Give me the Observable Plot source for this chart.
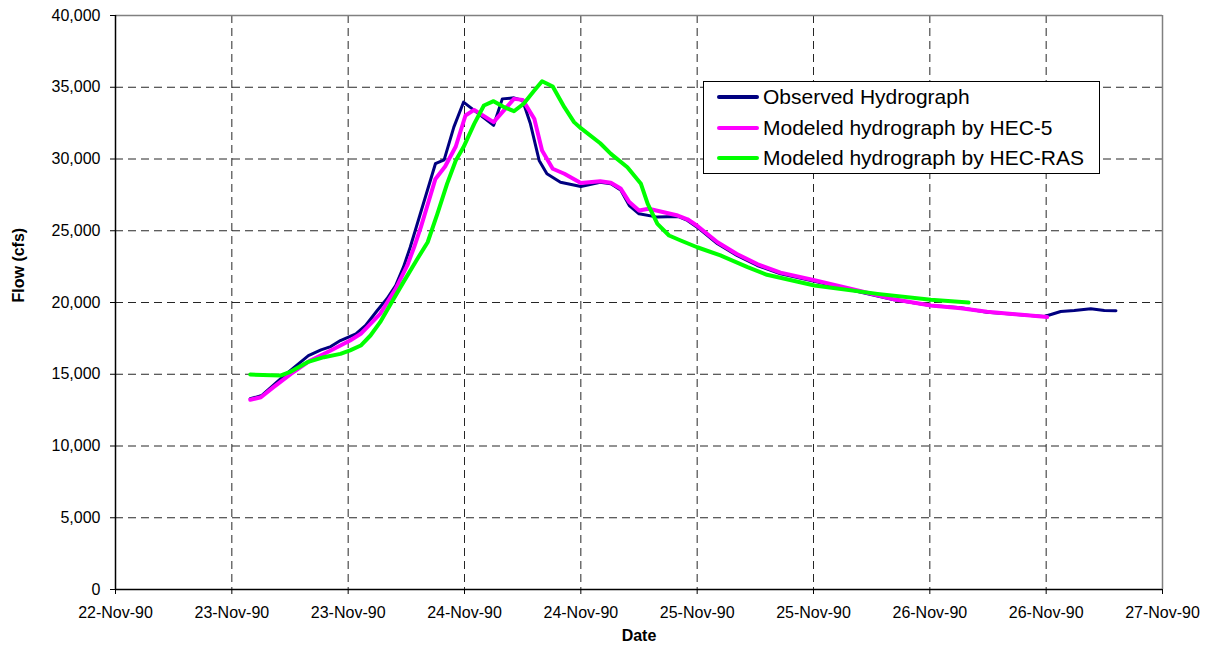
<!DOCTYPE html>
<html>
<head>
<meta charset="utf-8">
<script src="https://cdn.jsdelivr.net/npm/d3@7"></script>
<script src="https://cdn.jsdelivr.net/npm/@observablehq/plot@0.6"></script>
<style>
  html, body { margin: 0; padding: 0; background: #fff; }
  #wrap { position: relative; width: 1212px; height: 650px; font-family: "Liberation Sans", Arial, sans-serif; }
  #legend { position: absolute; left: 703px; top: 81px; width: 395px; height: 91px; border: 1px solid #000; background: #fff; box-sizing: content-box; }
  .row { display: flex; align-items: center; height: 30.5px; font-size: 21px; color: #000; white-space: nowrap; }
  .sw { width: 42px; height: 4px; margin-left: 13px; margin-right: 4px; border-radius: 2px; }
</style>
</head>
<body>
<div id="wrap"></div>
<script>
// ---- data (hours after 23-Nov-90 00:00, flow in cfs) ----
const seriesNames = ["Observed Hydrograph", "Modeled hydrograph by HEC-5", "Modeled hydrograph by HEC-RAS"];
const seriesColors = ["#000080", "#FF00FF", "#00FF00"];

const obsHours = [1.9, 3.1, 5.4, 7.9, 9.2, 10.2, 11.2, 12.8, 13.8, 15.0, 16.0, 16.9, 17.7, 18.4, 21.0,
  21.9, 22.9, 23.9, 27.0, 27.9, 29.1, 30.0, 30.8, 31.7, 32.5, 33.9, 36.0, 38.0, 39.1, 40.1,
  41.0, 42.0, 43.9, 46.0, 47.0, 48.0, 50.1, 52.1, 54.2, 56.6, 60.1, 64.9, 68.3, 72.1, 75.2,
  77.9, 83.8, 84.5, 85.5, 86.9, 88.6, 90.0, 91.2];
const obsFlow = [13290, 13520, 14910, 16300, 16700, 16930, 17350, 17820, 18400, 19440, 20260, 21180, 22460, 23850, 29670,
  29940, 32220, 33960, 32340, 34190, 34260, 34080, 32450, 29900, 28970, 28380, 28080, 28380, 28270, 27850,
  26760, 26180, 25950, 26000, 25720, 25250, 24090, 23280, 22580, 22000, 21480, 20720, 20190, 19790, 19630,
  19320, 19020, 19160, 19370, 19440, 19560, 19440, 19420];

const hec5Hours = [1.9, 3.0, 4.3, 6.1, 8.1, 10.2, 12.2, 13.3, 15.3, 16.9, 18.1, 18.8, 19.5, 21.0, 22.0,
  23.1, 24.1, 25.0, 27.0, 29.1, 30.0, 31.2, 32.0, 33.1, 34.3, 36.0, 38.0, 39.1, 40.1, 41.0,
  42.0, 43.0, 46.0, 47.0, 48.0, 50.1, 52.1, 54.2, 56.6, 60.1, 64.9, 68.3, 72.1, 75.2, 77.9, 84.1];
const hec5Flow = [13220, 13400, 14100, 15030, 15960, 16660, 17350, 17820, 19210, 20950, 22580, 23850, 25250, 28610, 29480,
  30870, 33030, 33420, 32570, 34190, 34120, 32800, 30590, 29320, 28970, 28320, 28450, 28350, 27950, 27000,
  26410, 26530, 26060, 25800, 25350, 24200, 23380, 22680, 22080, 21550, 20780, 20220, 19790, 19600, 19350, 18990];

const rasHours = [1.9, 5.0, 6.1, 7.8, 9.5, 11.2, 12.2, 13.3, 14.3, 15.3, 16.4, 17.7, 19.1, 20.2, 21.2,
  22.2, 23.1, 23.9, 25.0, 26.0, 27.0, 28.1, 29.1, 30.1, 31.2, 32.0, 33.1, 34.3, 35.3, 36.0,
  38.0, 39.1, 40.8, 42.2, 42.9, 43.9, 45.1, 46.3, 48.0, 50.4, 53.2, 55.2, 60.1, 66.6, 72.1, 76.0];
const rasFlow = [14980, 14910, 15190, 15840, 16190, 16420, 16660, 17000, 17700, 18630, 19910, 21420, 23000, 24200, 26180,
  28270, 29900, 30830, 32450, 33730, 34030, 33610, 33330, 33850, 34770, 35420, 35050, 33610, 32570, 32150,
  31100, 30360, 29430, 28270, 26880, 25480, 24670, 24320, 23850, 23280, 22460, 21930, 21180, 20600, 20190, 20000];

const xTickDates = ["1990-11-22T12:00Z", "1990-11-23T00:00Z", "1990-11-23T12:00Z", "1990-11-24T00:00Z", "1990-11-24T12:00Z",
  "1990-11-25T00:00Z", "1990-11-25T12:00Z", "1990-11-26T00:00Z", "1990-11-26T12:00Z", "1990-11-27T00:00Z"];
const yTicks = [0, 5000, 10000, 15000, 20000, 25000, 30000, 35000, 40000];
const yLabel = "Flow (cfs)";
const xLabel = "Date";

// ---- build table ----
const base = Date.UTC(1990, 10, 23, 0, 0);
const toDate = h => new Date(base + h * 3600e3);
const hoursList = [obsHours, hec5Hours, rasHours];
const flowList = [obsFlow, hec5Flow, rasFlow];
const rows = [];
seriesNames.forEach((name, i) => {
  hoursList[i].forEach((h, j) => rows.push({series: name, t: toDate(h), q: flowList[i][j]}));
});
const xt = xTickDates.map(s => new Date(s));
const xDomain = [xt[0], xt[xt.length - 1]];
const fmt = d3.utcFormat("%d-%b-%y");
const widths = [3, 4, 4];

const chart = Plot.plot({
  width: 1212,
  height: 650,
  marginLeft: 115,
  marginRight: 50,
  marginTop: 15,
  marginBottom: 61,
  style: {fontFamily: '"Liberation Sans", Arial, sans-serif', fontSize: "16px", background: "#fff", color: "#000"},
  x: {type: "utc", domain: xDomain, ticks: xt, tickFormat: fmt, tickSize: 5, tickPadding: 12, label: null},
  y: {domain: [0, 40000], ticks: yTicks, tickFormat: d3.format(","), tickSize: 5, tickPadding: 10, label: null},
  marks: [
    Plot.gridX(xt.slice(1, -1), {stroke: "#000", strokeOpacity: 0.85, strokeDasharray: "8,5"}),
    Plot.gridY(yTicks.slice(1, -1), {stroke: "#000", strokeOpacity: 0.85, strokeDasharray: "8,5"}),
    Plot.ruleY([yTicks[yTicks.length - 1]], {stroke: "#808080", strokeWidth: 1.5}),
    Plot.ruleX([xDomain[1]], {stroke: "#808080", strokeWidth: 1.5}),
    ...seriesNames.map((name, i) =>
      Plot.line(rows.filter(d => d.series === name), {
        x: "t", y: "q", stroke: seriesColors[i], strokeWidth: widths[i],
        strokeLinejoin: "round", strokeLinecap: "round"
      })
    ),
    Plot.ruleY([0], {stroke: "#000", strokeWidth: 1.5}),
    Plot.ruleX([xDomain[0]], {stroke: "#000", strokeWidth: 1.5}),
    Plot.text([yLabel], {frameAnchor: "left", rotate: -90, dx: -97, fontWeight: "bold", fontSize: 16}),
    Plot.text([xLabel], {frameAnchor: "bottom", dy: 51, fontWeight: "bold", fontSize: 16})
  ]
});

const wrap = document.getElementById("wrap");
wrap.appendChild(chart);

// legend overlay
const legend = document.createElement("div");
legend.id = "legend";
seriesNames.forEach((name, i) => {
  const row = document.createElement("div");
  row.className = "row";
  const sw = document.createElement("div");
  sw.className = "sw";
  sw.style.background = seriesColors[i];
  const label = document.createElement("span");
  label.textContent = name;
  row.appendChild(sw);
  row.appendChild(label);
  legend.appendChild(row);
});
wrap.appendChild(legend);
</script>
</body>
</html>
